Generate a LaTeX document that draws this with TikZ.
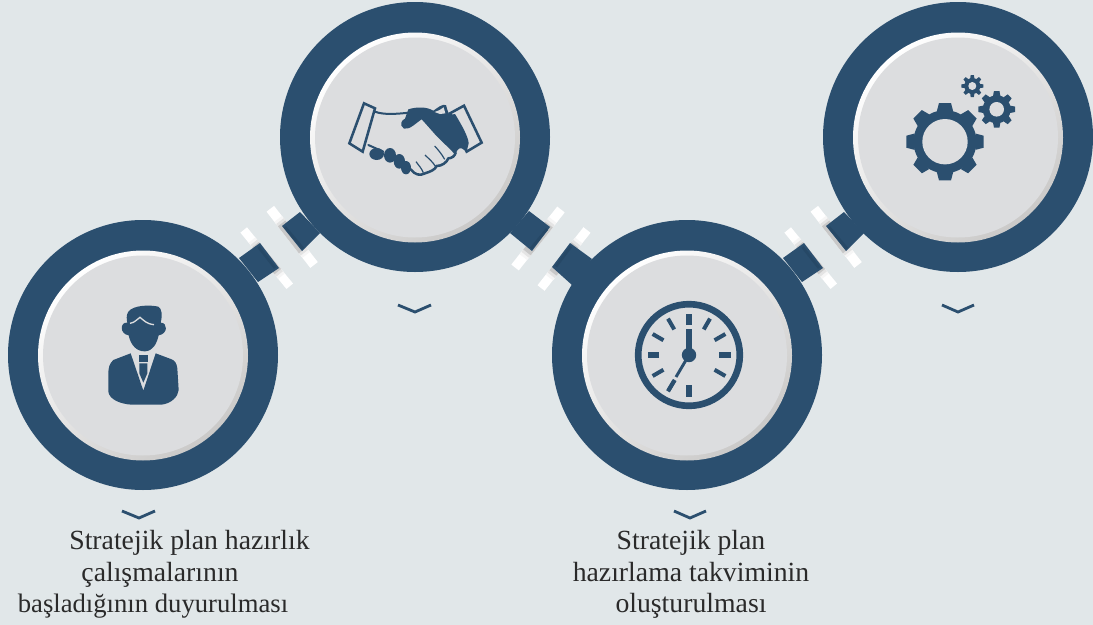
\documentclass[tikz,border=0pt]{standalone}
\usepackage{fontspec}
\setmainfont{Liberation Serif}
\definecolor{navy}{HTML}{2B4F6F}
\definecolor{navyd}{HTML}{264866}
\definecolor{bgc}{HTML}{E1E7E9}
\definecolor{discc}{HTML}{DCDDDF}
\definecolor{shadeg}{HTML}{CAC9C8}
\definecolor{barA}{HTML}{F6F6F6}
\definecolor{barB}{HTML}{E4E4E4}
\definecolor{barC}{HTML}{C8C8C8}
\definecolor{txt}{HTML}{2A2A2A}
\tikzset{
  ringc/.style={circle,fill=navy,minimum size=270*0.75pt,inner sep=0pt,draw=none},
  chev/.style={draw=navy,line width=2.1pt,line join=miter},
  lbl/.style={font=\fontsize{20.8pt}{24pt}\selectfont,align=center,text=txt,inner sep=0pt},
  lblb/.style={font=\fontsize{20pt}{24pt}\selectfont,align=center,text=txt,inner sep=0pt},
  tabc/.style={fill=navy},
  tabend/.style={draw=navyd,line width=2pt},
  iconline/.style={draw=navy,line width=1.5pt,line join=round,line cap=round},
}
\newcommand{\disc}[2]{%
  \shade[top color=white,bottom color=shadeg,shading angle=40] (#1,#2) circle (105);
  \fill[discc] (#1,#2) circle (100);
}
% bar: x y angle length width
\newcommand{\whitebar}[5]{%
  \begin{scope}[shift={(#1,#2)},rotate=#3]
    \fill[white] (0,-#5/2) rectangle (#4,#5/2);
    \fill[barA] (#4*0.18,-#5/2) rectangle (#4*0.82,#5/2);
    \fill[barB] (#4*0.22,-#5/2) rectangle (#4*0.78,#5/2);
    \fill[barC] (#4*0.26,-#5/2) rectangle (#4*0.74,#5/2);
  \end{scope}}
\newcommand{\conn}[1]{%
  \begin{scope}[xshift=#1*0.75pt]
    \whitebar{243.7}{230}{-50.7}{72.7}{8.5}
    \whitebar{270.3}{208.8}{-52.1}{71.2}{9.5}
    \fill[tabc] (239,258) -- (260,243) -- (279,268) -- (258,282) -- cycle;
    \draw[tabend] (258.5,247) -- (275,268);
    \fill[tabc] (282,226) -- (300,212) -- (320,233) -- (302,251) -- cycle;
    \draw[tabend] (285,227) -- (303,248.5);
  \end{scope}}
\newcommand{\gear}[6]{% x y ring toothR toothW inner
  \foreach \a in {0,45,...,315}
    \fill[navy,shift={(#1,#2)},rotate=\a] (-#5*0.68,-#3+1) -- (-#5/2,-#4) -- (#5/2,-#4) -- (#5*0.68,-#3+1) -- cycle;
  \fill[navy] (#1,#2) circle (#3);
  \fill[discc] (#1,#2) circle (#6);
}
\begin{document}
\begin{tikzpicture}[x=0.75pt,y=-0.75pt]
\useasboundingbox (0,0) rectangle (1093,625);
\fill[bgc] (0,0) rectangle (1093,625);
% connectors under rings
\conn{0}
\whitebar{561}{209.5}{-128.4}{74}{9.5}
\whitebar{587}{230}{-128.4}{74}{9}
\fill[tabc] (529,211) -- (550,227) -- (532,251) -- (510,233) -- cycle;
\draw[tabend] (547,229) -- (531,248.5);
\fill[tabc] (570,243) -- (592,259) -- (572,285) -- (552,267) -- cycle;
\draw[tabend] (571,246.5) -- (556,266.5);
\conn{544}
\node[ringc] (r1) at (143,355) {};
\node[ringc] (r2) at (415,137) {};
\node[ringc] (r3) at (687,355) {};
\node[ringc] (r4) at (958,137) {};
\disc{143}{355.5}
\disc{415}{137.5}
\disc{687}{355.5}
\disc{958}{137.5}
% chevrons
\draw[chev] (122,511) -- (139,518) -- (155,511);
\draw[chev] (398,305) -- (415,312) -- (431,305);
\draw[chev] (674,511) -- (690,518) -- (706,511);
\draw[chev] (942,305) -- (958,312) -- (974,305);
% person
\begin{scope}[shift={(90,290)},x=0.25pt,y=-0.25pt]
\fill[navy] (122,190) -- (70,210) .. controls (58,220) and (55,235) .. (55,250) -- (55,305)
  .. controls (58,328) and (90,342) .. (125,344) -- (215,344) .. controls (245,340) and (264,320) .. (266,300)
  -- (262,235) .. controls (260,220) and (255,212) .. (245,208) -- (197,190) -- (160,302) -- cycle;
\fill[navy] (147,195) -- (173,195) -- (173,216) -- (147,216) -- cycle;
\fill[navy] (148,220) -- (172,220) -- (172,250) -- (160,278) -- (148,250) -- cycle;
\fill[navy] (112,98) .. controls (90,95) and (88,132) .. (116,136)
  .. controls (122,165) and (140,185) .. (165,184) .. controls (190,183) and (200,160) .. (206,136)
  .. controls (234,132) and (234,98) .. (212,98) .. controls (218,75) and (215,55) .. (205,50)
  .. controls (180,44) and (130,45) .. (115,65) .. controls (108,75) and (110,90) .. (112,98) -- cycle;
\draw[discc,line width=1pt] (120,100) .. controls (135,98) and (140,88) .. (150,82) .. controls (160,90) and (170,102) .. (192,104);
\end{scope}
% clock
\begin{scope}[shift={(689,355)}]
\draw[navy,line width=5pt] (0,0) circle (50.8);
\fill[navy] (0,0) circle (7.2);
\draw[navy,line width=5pt] (0,0) -- (0,-26);
\draw[navy,line width=2.2pt] (0,0) -- (-13,22);
\draw[navy,line width=3pt] (-14.2,25) -- (-20.7,35.5);
\foreach \a in {0,90,180,270}
  \draw[navy,line width=5pt,rotate=\a] (0,-30) -- (0,-41.5);
\foreach \a in {30,60,120,150,240,300,330}
  \draw[navy,line width=3pt,rotate=\a] (0,-29.5) -- (0,-42);
\end{scope}
% gears
\gear{945}{141.7}{31.5}{38.7}{12}{22.7}
\gear{996.7}{109.3}{14}{18.3}{5.5}{7.3}
\gear{972.3}{86}{8}{11}{3.2}{4}
% handshake
\begin{scope}[shift={(340,90)},x=0.25pt,y=-0.25pt]
\draw[iconline,line width=1.9pt,line join=miter] (72,40) -- (105,55) -- (68,185) -- (28,160) -- cycle;
\draw[iconline,line width=1.9pt,line join=miter] (330,70) -- (372,47) -- (425,158) -- (380,185) -- cycle;
\draw[iconline] (105,65) .. controls (130,75) and (170,72) .. (207,68);
\fill[navy] (205,58) .. controls (230,50) and (260,50) .. (280,62) .. controls (295,52) and (305,42) .. (318,45)
  .. controls (322,60) and (325,68) .. (328,75) -- (345,72) .. controls (365,105) and (385,140) .. (386,160)
  -- (380,185) -- (365,175) .. controls (355,172) and (350,184) .. (345,194) .. controls (330,175) and (305,155) .. (286,134)
  .. controls (270,116) and (258,102) .. (245,88) .. controls (230,97) and (210,120) .. (192,116)
  .. controls (176,105) and (185,90) .. (195,86) -- cycle;
\fill[discc] (284,66) .. controls (295,62) and (305,58) .. (311,52) -- (316,70) -- (300,72) -- cycle;
\draw[iconline] (85,165) -- (130,185);
\fill[navy] (110,192) ellipse (22 and 18);
\fill[navy] (150,196) ellipse (18 and 22);
\fill[navy] (178,214) ellipse (17 and 22);
\fill[navy] (198,233) ellipse (15 and 20);
\draw[iconline,line width=1.9pt] (212,238) .. controls (225,255) and (240,258) .. (255,250) .. controls (270,245) and (285,240) .. (290,228)
  .. controls (305,228) and (320,218) .. (325,205) .. controls (335,205) and (345,198) .. (347,188);
\draw[navy,line width=0.9pt] (284,168) .. controls (295,180) and (305,192) .. (314,208);
\draw[navy,line width=0.9pt] (255,195) .. controls (265,205) and (278,215) .. (287,230);
\draw[navy,line width=0.9pt] (228,215) .. controls (235,225) and (245,235) .. (250,248);
\end{scope}
% labels
\node[lbl,anchor=base] (t1) at (189.5,549) {Stratejik plan hazırlık};
\node[lbl,anchor=base] (t2) at (160,581) {çalışmalarının};
\node[lblb,anchor=base] (t3) at (153,612) {başladığının duyurulması};
\node[lbl,anchor=base] (t4) at (691,549) {Stratejik plan};
\node[lbl,anchor=base] (t5) at (691,581) {hazırlama takviminin};
\node[lbl,anchor=base] (t6) at (691,612) {oluşturulması};
\end{tikzpicture}
\end{document}
